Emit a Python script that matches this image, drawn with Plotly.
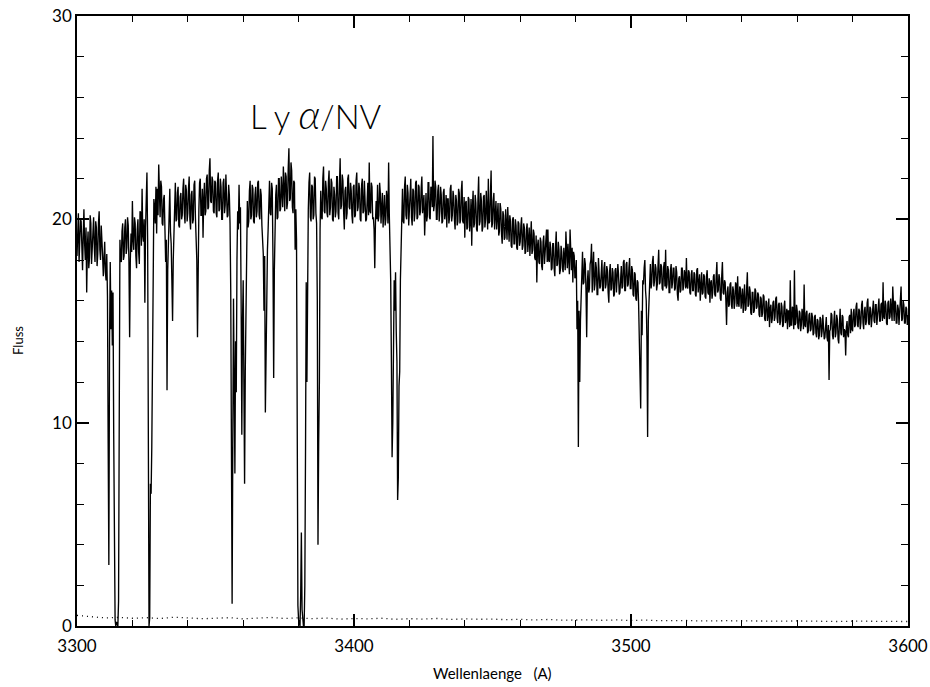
import plotly.graph_objects as go

# Spectrum sampled every 0.25 A from 3300 A; one row per 10 A (40 samples)
WAVE_START = 3300.0
WAVE_STEP = 0.25

flux_3300 = [18.2, 19.5, 20.3, 17.9, 18.6, 20.0, 19.9, 18.4, 17.5, 19.2, 20.5, 18.8, 18.0, 19.6, 16.4, 18.7, 19.4, 17.6, 18.1, 20.2,
             19.8, 17.8, 18.4, 19.5, 20.1, 18.6, 17.9, 19.9, 19.6, 17.7, 18.3, 19.8, 20.4, 18.5, 18.0, 19.7, 19.2, 18.2, 17.2, 18.9]
flux_3310 = [18.9, 17.4, 17.0, 18.3, 16.2, 9.0, 3.0, 14.0, 17.9, 14.6, 16.5, 13.8, 16.4, 9.5, 2.5, 0.3, 0.0, 0.2, 0.1, 0.0,
             1.2, 14.0, 19.0, 18.0, 17.9, 19.4, 19.8, 18.0, 18.2, 19.6, 20.0, 18.3, 18.6, 20.1, 19.7, 17.9, 14.2, 18.0, 19.3, 18.4]
flux_3320 = [20.9, 19.0, 18.5, 20.1, 19.8, 18.2, 17.6, 19.5, 20.0, 18.4, 17.8, 20.4, 20.3, 18.7, 21.5, 19.2, 18.9, 20.0, 15.9, 19.6,
             20.6, 22.3, 19.0, 8.0, 0.0, 0.4, 7.0, 6.5, 8.8, 14.0, 19.0, 21.0, 20.6, 19.8, 21.6, 19.3, 21.5, 20.2, 22.7, 20.5]
flux_3330 = [20.1, 21.9, 21.6, 19.8, 19.7, 21.0, 21.2, 19.5, 17.9, 19.0, 11.6, 17.5, 18.5, 20.4, 21.5, 19.4, 18.8, 17.0, 15.0, 18.0,
             19.2, 20.5, 21.8, 19.9, 20.0, 21.3, 21.6, 19.7, 19.6, 21.1, 21.3, 20.0, 20.2, 21.5, 22.0, 20.3, 19.8, 21.7, 21.4, 19.9]
flux_3340 = [20.3, 21.5, 22.1, 20.0, 19.5, 21.2, 21.4, 19.8, 20.0, 21.7, 21.9, 20.1, 19.4, 18.0, 14.2, 19.6, 20.5, 21.8, 22.0, 20.2,
             20.2, 21.5, 19.1, 21.0, 21.8, 20.2, 20.4, 22.0, 22.2, 20.5, 20.6, 22.4, 23.0, 20.9, 20.8, 22.1, 21.9, 20.4, 20.3, 21.9]
flux_3350 = [21.8, 20.3, 20.1, 21.9, 22.3, 20.4, 20.5, 22.0, 21.6, 20.0, 20.0, 21.8, 22.0, 20.3, 20.7, 22.2, 21.5, 20.1, 20.2, 21.7,
             21.2, 19.8, 16.5, 8.0, 1.1, 9.0, 16.1, 12.0, 7.5, 14.0, 11.5, 18.0, 20.4, 19.5, 21.7, 19.8, 20.6, 16.0, 9.4, 15.0]
flux_3360 = [17.0, 12.0, 7.0, 12.5, 15.0, 19.5, 20.9, 19.6, 19.9, 21.4, 21.9, 20.0, 20.2, 21.7, 21.5, 19.9, 19.8, 21.2, 21.6, 20.1,
             20.4, 21.8, 21.9, 20.2, 20.0, 21.5, 21.2, 19.7, 19.0, 18.3, 15.5, 18.2, 10.5, 14.0, 15.4, 18.5, 19.5, 20.4, 21.9, 20.3]
flux_3370 = [20.2, 21.8, 21.5, 18.0, 12.2, 17.5, 19.8, 21.2, 21.7, 20.0, 20.1, 22.0, 22.0, 20.4, 20.5, 22.1, 21.3, 20.6, 22.6, 20.8,
             20.4, 22.3, 22.1, 20.5, 20.8, 22.5, 23.5, 20.9, 21.0, 22.8, 22.4, 20.6, 20.3, 21.9, 21.8, 18.5, 20.5, 19.0, 9.0, 1.0]
flux_3380 = [0.3, 0.1, 0.0, 1.5, 4.6, 0.8, 0.1, 0.0, 0.0, 2.0, 8.6, 16.9, 12.0, 19.0, 20.5, 21.8, 22.3, 20.1, 19.9, 21.7,
             21.6, 20.0, 20.2, 22.1, 22.0, 20.3, 19.8, 16.0, 4.0, 9.0, 12.0, 19.5, 21.4, 20.1, 20.0, 22.0, 22.6, 20.4, 20.3, 21.9]
flux_3390 = [21.5, 20.3, 20.1, 21.8, 22.4, 20.2, 20.6, 22.0, 21.8, 20.0, 19.9, 21.6, 21.2, 20.1, 20.4, 22.1, 22.1, 20.3, 20.0, 21.7,
             23.0, 20.5, 20.7, 22.2, 21.9, 20.4, 19.5, 21.4, 21.6, 20.0, 20.3, 22.0, 22.2, 20.6, 20.5, 21.8, 21.4, 20.2, 19.8, 21.6]
flux_3400 = [21.7, 20.1, 20.2, 21.9, 22.3, 20.4, 20.6, 21.8, 21.5, 20.0, 19.9, 21.7, 22.0, 20.3, 20.4, 21.9, 21.2, 19.9, 20.0, 21.6,
             21.8, 20.2, 22.8, 20.4, 20.3, 21.8, 21.6, 20.0, 20.1, 19.5, 17.6, 19.9, 20.9, 20.0, 21.7, 19.9, 20.2, 21.8, 21.3, 19.8]
flux_3410 = [20.8, 21.3, 19.6, 21.0, 21.2, 19.7, 20.0, 21.4, 21.0, 19.8, 22.8, 20.2, 19.0, 17.0, 13.0, 8.3, 10.0, 15.0, 17.0, 15.5,
             17.4, 14.5, 13.0, 6.2, 7.3, 11.8, 12.5, 17.0, 19.0, 20.5, 21.5, 19.9, 19.8, 21.6, 22.1, 20.2, 20.0, 21.7, 21.3, 19.7]
flux_3420 = [20.5, 21.4, 22.0, 20.1, 19.7, 21.5, 21.4, 19.9, 20.3, 21.8, 21.9, 20.0, 20.1, 21.7, 21.6, 20.2, 20.4, 21.5, 22.1, 20.3,
             20.6, 21.2, 19.2, 21.0, 21.3, 19.9, 20.2, 21.8, 21.8, 20.1, 20.0, 21.6, 21.5, 20.6, 24.1, 20.4, 20.7, 21.9, 21.6, 20.0]
flux_3430 = [20.0, 21.4, 21.7, 19.9, 20.4, 21.6, 21.2, 19.8, 19.9, 21.3, 21.5, 20.0, 20.3, 21.2, 19.6, 21.0, 21.0, 19.8, 20.1, 21.5,
             21.7, 19.9, 20.2, 21.4, 21.1, 20.0, 19.5, 21.2, 20.9, 19.7, 19.9, 21.5, 21.3, 19.8, 20.0, 21.4, 21.9, 19.9, 19.8, 21.1]
flux_3440 = [19.1, 20.8, 20.9, 19.5, 19.6, 21.1, 21.0, 19.4, 19.9, 21.0, 18.7, 20.6, 21.4, 19.6, 19.8, 21.2, 20.8, 19.5, 19.4, 21.0,
             22.1, 19.7, 19.9, 21.3, 20.9, 19.4, 19.6, 21.1, 21.2, 19.6, 20.0, 21.4, 20.7, 19.5, 22.0, 19.8, 19.9, 21.2, 22.4, 19.6]
flux_3450 = [19.8, 20.9, 21.3, 19.5, 20.0, 20.9, 19.5, 20.7, 20.8, 19.2, 19.4, 20.8, 20.5, 19.3, 18.8, 20.4, 20.2, 19.0, 19.1, 20.5,
             20.0, 19.0, 20.6, 19.2, 18.9, 20.2, 19.9, 18.7, 18.6, 20.0, 20.1, 18.8, 18.8, 20.0, 19.7, 18.6, 18.5, 19.9, 19.8, 18.7]
flux_3460 = [18.9, 19.7, 20.1, 18.5, 18.7, 19.8, 19.6, 18.3, 18.4, 19.5, 19.8, 18.4, 18.8, 19.6, 18.2, 19.4, 19.9, 18.3, 18.5, 19.5,
             19.3, 18.1, 18.0, 19.2, 16.9, 18.7, 19.0, 17.9, 17.8, 19.1, 18.9, 17.7, 17.5, 18.9, 19.2, 17.8, 18.3, 19.3, 19.5, 17.9]
flux_3470 = [19.5, 18.0, 17.9, 18.9, 18.6, 17.5, 17.6, 18.8, 18.8, 17.6, 17.2, 18.6, 19.4, 17.7, 17.8, 18.9, 18.5, 17.3, 17.5, 18.7,
             18.4, 17.6, 17.4, 18.6, 18.2, 17.5, 19.4, 17.6, 17.6, 18.8, 18.3, 17.3, 19.5, 17.8, 17.5, 18.6, 16.9, 18.4, 18.2, 17.1]
flux_3480 = [17.3, 18.0, 14.6, 16.0, 8.8, 15.5, 12.0, 15.0, 16.5, 17.9, 18.4, 16.8, 16.9, 18.1, 17.8, 16.5, 14.2, 16.9, 17.5, 16.4,
             16.6, 17.8, 18.0, 18.8, 16.4, 17.6, 18.4, 16.5, 16.8, 17.9, 17.6, 16.3, 16.3, 18.1, 17.4, 16.6, 16.7, 17.7, 18.0, 16.5]
flux_3490 = [16.5, 17.6, 17.9, 16.6, 16.8, 17.7, 17.5, 16.4, 15.9, 17.4, 17.8, 16.5, 16.6, 17.6, 17.4, 16.2, 16.3, 17.5, 17.6, 16.4,
             16.9, 17.8, 17.3, 16.3, 16.4, 17.5, 17.7, 16.6, 16.7, 17.9, 18.0, 16.5, 16.5, 17.8, 17.9, 16.7, 16.8, 17.6, 18.1, 16.6]
flux_3500 = [16.6, 17.7, 17.5, 16.3, 16.2, 17.4, 17.3, 16.1, 16.0, 17.0, 16.9, 15.8, 14.5, 13.0, 10.7, 15.5, 14.3, 17.0, 16.8, 17.6,
             18.0, 16.5, 16.0, 14.0, 9.3, 15.0, 16.4, 17.5, 17.8, 16.6, 16.9, 17.9, 18.2, 16.7, 17.0, 17.8, 17.6, 16.5, 16.8, 17.7]
flux_3510 = [18.5, 16.8, 16.9, 17.8, 17.7, 16.6, 16.5, 17.6, 17.9, 16.7, 18.5, 16.6, 16.8, 17.7, 17.5, 16.4, 16.4, 17.5, 17.8, 16.6,
             16.9, 17.6, 17.6, 16.5, 16.6, 17.7, 17.4, 16.3, 16.0, 17.1, 17.2, 16.4, 16.5, 17.6, 17.6, 16.5, 16.7, 17.5, 17.3, 16.6]
flux_3520 = [18.1, 16.7, 16.6, 17.5, 17.4, 16.4, 16.3, 17.3, 17.5, 16.5, 16.5, 17.4, 17.3, 16.3, 16.2, 17.5, 17.6, 16.4, 16.8, 17.3,
             16.0, 17.0, 17.4, 16.3, 16.4, 17.3, 17.2, 16.2, 16.1, 17.2, 17.5, 16.4, 16.3, 17.1, 15.9, 16.9, 17.0, 16.1, 16.4, 17.2]
flux_3530 = [17.3, 16.3, 16.2, 17.2, 17.9, 16.4, 16.5, 17.3, 17.1, 16.1, 16.0, 17.2, 17.9, 16.4, 16.3, 17.0, 16.9, 16.0, 14.8, 16.4,
             16.7, 15.7, 15.8, 16.8, 16.9, 15.8, 15.6, 16.7, 16.5, 15.6, 15.9, 16.9, 16.8, 15.7, 17.2, 15.9, 15.7, 16.7, 16.6, 15.6]
flux_3540 = [16.0, 16.6, 15.4, 16.5, 16.8, 15.5, 15.6, 16.6, 17.4, 15.7, 15.8, 16.7, 16.5, 15.4, 15.3, 16.4, 16.4, 15.4, 15.5, 16.6,
             16.5, 15.6, 15.7, 16.4, 16.3, 15.3, 15.2, 16.2, 16.1, 15.2, 15.4, 16.3, 16.2, 15.1, 15.0, 16.0, 15.9, 15.0, 15.3, 16.1]
flux_3550 = [14.7, 15.6, 15.8, 14.9, 15.1, 15.9, 16.0, 15.0, 15.2, 16.1, 16.2, 15.1, 14.9, 15.8, 15.9, 14.8, 15.0, 15.9, 15.7, 14.7,
             14.8, 15.7, 16.0, 14.9, 15.1, 15.6, 14.6, 15.5, 15.5, 14.7, 17.0, 14.8, 14.8, 15.7, 15.6, 14.6, 17.5, 14.8, 14.9, 15.8]
flux_3560 = [15.5, 14.7, 14.6, 15.5, 15.4, 14.5, 14.8, 15.6, 15.3, 14.6, 16.8, 14.8, 14.7, 15.4, 15.5, 14.4, 14.5, 15.3, 15.4, 14.5,
             14.6, 15.4, 15.2, 14.3, 14.4, 15.2, 15.3, 14.4, 14.2, 15.1, 15.0, 14.1, 14.3, 15.2, 15.1, 14.2, 14.5, 15.3, 14.9, 14.1]
flux_3570 = [14.2, 15.0, 15.2, 14.2, 14.0, 14.8, 12.1, 14.5, 14.6, 15.4, 15.3, 14.3, 14.1, 15.0, 15.5, 14.2, 14.4, 15.3, 15.1, 14.1,
             13.9, 14.9, 15.6, 14.4, 14.3, 15.3, 15.2, 14.2, 14.6, 14.5, 13.3, 14.7, 15.0, 14.3, 14.2, 15.2, 15.3, 14.4, 15.6, 14.6]
flux_3580 = [14.5, 15.4, 15.6, 14.7, 14.8, 15.7, 15.9, 14.8, 14.7, 15.6, 15.5, 14.6, 14.9, 15.8, 16.0, 14.9, 14.6, 15.5, 15.7, 14.8,
             15.0, 15.9, 16.1, 14.9, 14.8, 15.7, 15.6, 14.7, 15.1, 15.9, 16.0, 15.0, 14.9, 15.8, 15.8, 14.8, 15.2, 16.0, 16.1, 15.0]
flux_3590 = [15.0, 15.8, 15.9, 15.0, 16.9, 15.2, 15.1, 16.0, 15.8, 14.9, 14.8, 15.9, 16.0, 15.1, 15.2, 16.1, 15.7, 15.0, 16.7, 15.1,
             15.0, 16.0, 15.9, 14.9, 14.9, 15.8, 15.6, 14.8, 15.3, 16.1, 16.7, 15.0, 15.1, 16.0, 15.8, 14.9, 14.9, 15.7, 15.6, 14.8]
flux_3600 = [15.3]

flux_rows = [flux_3300, flux_3310, flux_3320, flux_3330, flux_3340, flux_3350, flux_3360, flux_3370,
             flux_3380, flux_3390, flux_3400, flux_3410, flux_3420, flux_3430, flux_3440, flux_3450,
             flux_3460, flux_3470, flux_3480, flux_3490, flux_3500, flux_3510, flux_3520, flux_3530,
             flux_3540, flux_3550, flux_3560, flux_3570, flux_3580, flux_3590]
for k, row in enumerate(flux_rows):
    if len(row) != 40:
        raise ValueError(f"row {3300 + 10 * k} has {len(row)} samples")

# Error spectrum sampled every 5 A from 3300 A
ERR_STEP = 5.0
error = [
    0.52, 0.45, 0.40, 0.42, 0.38, 0.41, 0.37, 0.43, 0.40, 0.36,
    0.38, 0.41, 0.35, 0.39, 0.42, 0.37, 0.40, 0.36, 0.39, 0.34,
    0.37, 0.35, 0.38, 0.33, 0.36, 0.34, 0.37, 0.32, 0.35, 0.33,
    0.34, 0.31, 0.33, 0.30, 0.32, 0.29, 0.31, 0.30, 0.28, 0.30,
    0.27, 0.29, 0.26, 0.28, 0.27, 0.25, 0.27, 0.26, 0.25, 0.24,
    0.26, 0.24, 0.25, 0.23, 0.24, 0.22, 0.24, 0.23, 0.22, 0.21,
    0.22,
]

x_ticks = [3300, 3400, 3500, 3600]
y_ticks = [0, 10, 20, 30]

flux = [v for row in flux_rows for v in row] + flux_3600
wave = [WAVE_START + WAVE_STEP * i for i in range(len(flux))]
wave_err = [WAVE_START + ERR_STEP * i for i in range(len(error))]

FONT = "Lato"

fig = go.Figure()
fig.add_trace(go.Scatter(x=wave, y=flux, mode="lines",
                         line=dict(color="black", width=1.35), showlegend=False))
fig.add_trace(go.Scatter(x=wave_err, y=error, mode="lines",
                         line=dict(color="black", width=1.3, dash="1px,4px"), showlegend=False))

axis_common = dict(
    showline=True, linecolor="black", linewidth=1.5, mirror="ticks",
    ticks="inside", ticklen=12, tickwidth=1.5, tickcolor="black",
    showgrid=False, zeroline=False, automargin=False,
    tickfont=dict(family=FONT, size=17, color="black"),
)

fig.update_xaxes(range=[3300, 3600], tickvals=x_ticks, ticktext=[str(v) for v in x_ticks],
                 ticklabelstandoff=4,
                 minor=dict(ticks="inside", ticklen=6, dtick=20, tickcolor="black", tickwidth=1.2, tick0=3300),
                 **axis_common)
fig.update_yaxes(range=[0, 30], tickvals=y_ticks, ticktext=[str(v) for v in y_ticks],
                 minor=dict(ticks="inside", ticklen=7, dtick=2, tickcolor="black", tickwidth=1.2, tick0=0),
                 **axis_common)

# Axis titles
fig.add_annotation(x=0.5, y=-0.077, xref="paper", yref="paper", xanchor="center", yanchor="middle",
                   text="Wellenlaenge&nbsp;&nbsp;&nbsp;(A)", showarrow=False,
                   font=dict(family=FONT, size=15, color="black"))
fig.add_annotation(x=-0.071, y=0.469, xref="paper", yref="paper", xanchor="center", yanchor="middle",
                   text="Fluss", textangle=-90, showarrow=False,
                   font=dict(family=FONT, size=13, color="black"))

fig.add_annotation(x=3361.8, y=25.2, xref="x", yref="y", xanchor="left", yanchor="middle",
                   text="L y <span style='font-size:40px'><i>α</i></span>/NV", showarrow=False,
                   font=dict(family=FONT, size=33, color="black", weight=300))

fig.update_layout(width=930, height=687, margin=dict(l=77, r=22, t=16, b=61),
                  plot_bgcolor="white", paper_bgcolor="white")

fig.write_html("out.html")
